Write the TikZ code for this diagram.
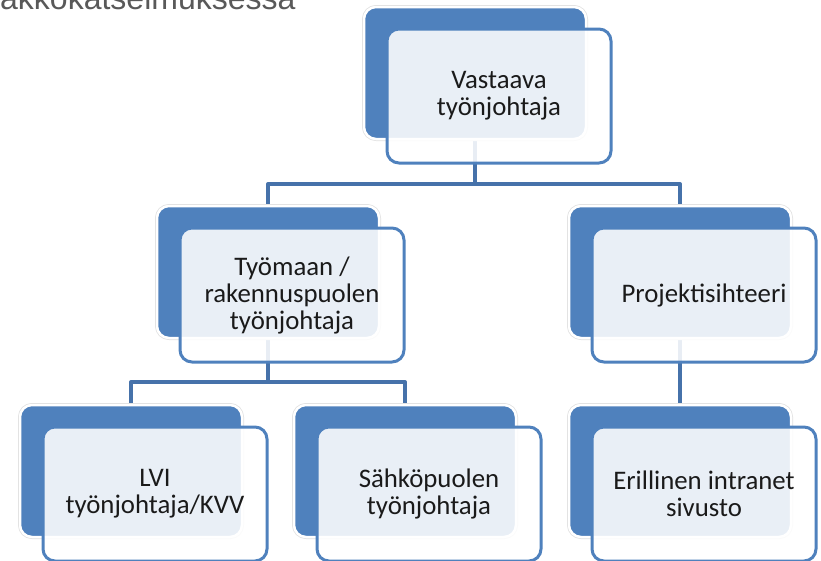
\documentclass[tikz,border=0pt]{standalone}
\usepackage{fontspec}
\setmainfont{Carlito}
\newfontfamily\captionfont{Liberation Sans}
\usetikzlibrary{positioning,calc,backgrounds}
\definecolor{boxblue}{HTML}{4F81BD}
\definecolor{linkblue}{HTML}{4672AA}
\definecolor{captiongray}{HTML}{595959}
\definecolor{textdark}{HTML}{1A1A1A}
\tikzset{
  backbox/.style={rectangle, rounded corners=12pt, fill=boxblue, draw=white,
    line width=2.5pt, minimum width=222pt, minimum height=132pt, inner sep=0pt,
    preaction={draw=black!12, line width=4pt}},
  frontbox/.style={rectangle, rounded corners=12pt, fill=white, fill opacity=0.88,
    text opacity=1, draw=boxblue, line width=3pt, minimum width=224pt,
    minimum height=134pt, inner sep=0pt, align=center, text=textdark,
    font=\fontsize{26.8}{27}\selectfont},
  link/.style={draw=linkblue, line width=4pt, line join=round},
}

\begin{document}
\begin{tikzpicture}[x=1pt,y=-1pt]
    \useasboundingbox (0,0) rectangle (821,560);
    \clip (0,0) rectangle (821,560);

    % Caption cut by the page edge
    \node[anchor=base west, inner sep=0pt, text=captiongray,
          font=\captionfont\fontsize{32}{36}\selectfont] (caption) at (0,9.5) {akkokatselmuksessa};

    % Back plates
    \node[backbox] (vastaava-bg) at (475,73) {};
    \node[backbox] (tyomaa-bg) at (268,272) {};
    \node[backbox] (projekti-bg) at (680,272) {};
    \node[backbox] (lvi-bg) at (131,471) {};
    \node[backbox] (sahko-bg) at (405,471) {};
    \node[backbox] (intra-bg) at (680,471) {};

    % Front boxes with the titles
    \node[frontbox] (vastaava) at ([shift={(24,23)}]vastaava-bg.center) {Vastaava\\työnjohtaja};
    \node[frontbox] (tyomaa) at ([shift={(24,23)}]tyomaa-bg.center) {Työmaan /\\rakennuspuolen\\työnjohtaja};
    \node[frontbox] (projekti) at ([shift={(24,23)}]projekti-bg.center) {Projektisihteeri};
    \node[frontbox] (lvi) at ([shift={(24,23)}]lvi-bg.center) {LVI\\työnjohtaja/KVV};
    \node[frontbox] (sahko) at ([shift={(24,23)}]sahko-bg.center) {Sähköpuolen\\työnjohtaja};
    \node[frontbox] (intra) at ([shift={(24,23)}]intra-bg.center) {Erillinen intranet\\sivusto};

    % Connectors
    \coordinate (bus1) at (0,184);
    \coordinate (bus2) at (0,382);
    \begin{scope}[on background layer]
        \draw[link] (vastaava-bg.center) -- (vastaava-bg.center |- bus1) -| (tyomaa-bg.center);
        \draw[link] (vastaava-bg.center |- bus1) -| (projekti-bg.center);
        \draw[link] (tyomaa-bg.center) -- (tyomaa-bg.center |- bus2) -| (lvi-bg.center);
        \draw[link] (tyomaa-bg.center |- bus2) -| (sahko-bg.center);
        \draw[link] (projekti-bg.center) -- (intra-bg.center);
    \end{scope}
\end{tikzpicture}
\end{document}
